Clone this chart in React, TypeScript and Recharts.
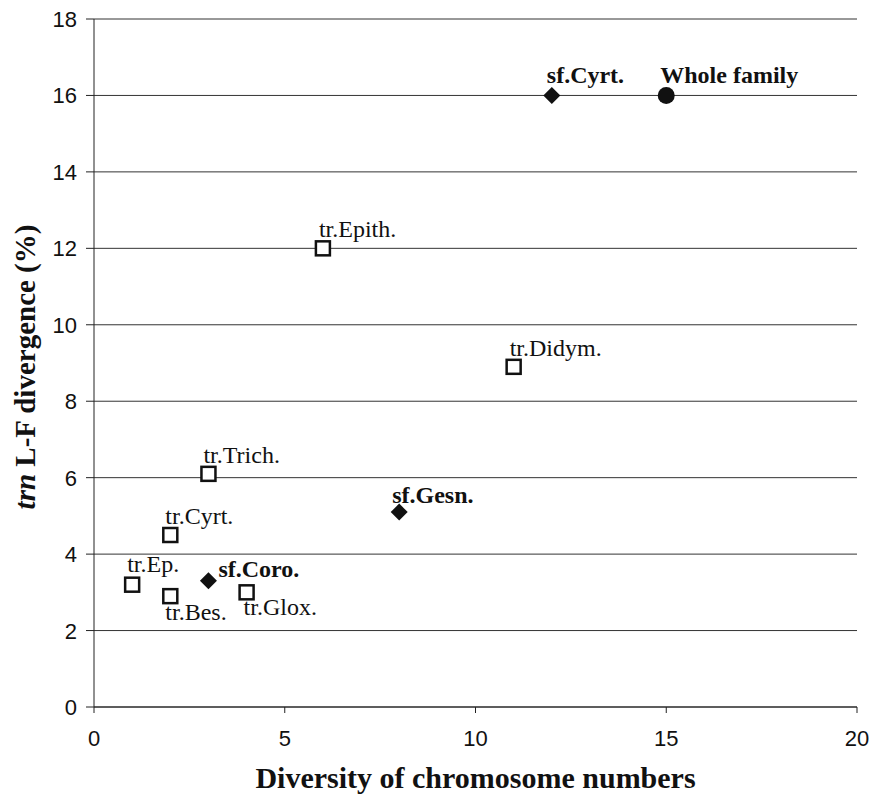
import React from 'react';
import { ScatterChart, Scatter, XAxis, YAxis, CartesianGrid, Label } from 'recharts';

// tribes (open squares)
const tribeNames = ['tr.Ep.', 'tr.Bes.', 'tr.Glox.', 'tr.Cyrt.', 'tr.Trich.', 'tr.Epith.', 'tr.Didym.'];
const tribeDiversity = [1, 2, 4, 2, 3, 6, 11];
const tribeDivergence = [3.2, 2.9, 3.0, 4.5, 6.1, 12.0, 8.9];

// subfamilies (filled diamonds)
const subfamilyNames = ['sf.Coro.', 'sf.Gesn.', 'sf.Cyrt.'];
const subfamilyDiversity = [3, 8, 12];
const subfamilyDivergence = [3.3, 5.1, 16.0];

// whole family (filled circle)
const familyNames = ['Whole family'];
const familyDiversity = [15];
const familyDivergence = [16.0];

const xTicks = [0, 5, 10, 15, 20];
const yTicks = [0, 2, 4, 6, 8, 10, 12, 14, 16, 18];

// where each label sits relative to its marker (text start, baseline)
const labelOffset: Record<string, [number, number]> = {
  'tr.Ep.': [-5, -13],
  'tr.Bes.': [-5, 24],
  'tr.Glox.': [-3, 23],
  'tr.Cyrt.': [-5, -11],
  'tr.Trich.': [-5, -11],
  'tr.Epith.': [-4, -11],
  'tr.Didym.': [-4, -11],
  'sf.Coro.': [10, -4],
  'sf.Gesn.': [-7, -9],
  'sf.Cyrt.': [-5, -12],
  'Whole family': [-6, -12],
};

const build = (names: string[], xs: number[], ys: number[]) =>
  names.map((name, i) => ({ name, x: xs[i], y: ys[i] }));

const tribes = build(tribeNames, tribeDiversity, tribeDivergence);
const subfamilies = build(subfamilyNames, subfamilyDiversity, subfamilyDivergence);
const family = build(familyNames, familyDiversity, familyDivergence);

const serif = '"Liberation Serif", "Times New Roman", serif';
const sans = '"Liberation Sans", Arial, sans-serif';

const PointLabel = ({ cx, cy, name, bold }: any) => {
  const [dx, dy] = labelOffset[name] || [0, -12];
  return (
    <text x={cx + dx} y={cy + dy} fontFamily={serif} fontSize={24} fontWeight={bold ? 'bold' : 'normal'} fill="#111">
      {name}
    </text>
  );
};

const SquareShape = (props: any) => {
  const { cx, cy, payload } = props;
  return (
    <g>
      <rect x={cx - 7} y={cy - 7} width={14} height={14} fill="#fff" stroke="#111" strokeWidth={2.5} />
      <PointLabel cx={cx} cy={cy} name={payload.name} />
    </g>
  );
};

const DiamondShape = (props: any) => {
  const { cx, cy, payload } = props;
  const r = 8.5;
  return (
    <g>
      <polygon points={`${cx},${cy - r} ${cx + r},${cy} ${cx},${cy + r} ${cx - r},${cy}`} fill="#111" />
      <PointLabel cx={cx} cy={cy} name={payload.name} bold />
    </g>
  );
};

const CircleShape = (props: any) => {
  const { cx, cy, payload } = props;
  return (
    <g>
      <circle cx={cx} cy={cy} r={8.5} fill="#111" />
      <PointLabel cx={cx} cy={cy} name={payload.name} bold />
    </g>
  );
};

const XTick = ({ x, y, payload }: any) => (
  <text x={x} y={y + 15} textAnchor="middle" fontFamily={sans} fontSize={22} fill="#111">
    {payload.value}
  </text>
);

const YTick = ({ x, y, payload }: any) => (
  <text x={77} y={y + 8} textAnchor="end" fontFamily={sans} fontSize={22} fill="#111">
    {payload.value}
  </text>
);

const YTitle = ({ viewBox }: any) => {
  const cx = 25;
  const cy = viewBox.y + viewBox.height / 2 + 4;
  return (
    <text
      x={cx}
      y={cy}
      transform={`rotate(-90, ${cx}, ${cy})`}
      textAnchor="middle"
      dominantBaseline="central"
      fontFamily={serif}
      fontSize={29}
      fontWeight="bold"
      fill="#111"
    >
      <tspan fontStyle="italic">trn</tspan> L-F divergence (%)
    </text>
  );
};

const XTitle = ({ viewBox }: any) => (
  <text
    x={viewBox.x + viewBox.width / 2}
    y={788}
    textAnchor="middle"
    fontFamily={serif}
    fontSize={30}
    fontWeight="bold"
    fill="#111"
  >
    Diversity of chromosome numbers
  </text>
);

export default function App() {
  return (
    <div style={{ position: 'absolute', left: 0, top: 0, background: '#fff' }}>
      <ScatterChart width={874} height={801} margin={{ top: 19, right: 17, left: 0, bottom: 0 }}>
        <CartesianGrid vertical={false} stroke="#333" strokeWidth={1} />
        <XAxis
          type="number"
          dataKey="x"
          domain={[0, 20]}
          ticks={xTicks}
          height={94}
          tick={<XTick />}
          tickSize={6}
          tickMargin={18}
          stroke="#222"
          tickLine={{ stroke: '#222' }}
          allowDataOverflow
        >
          <Label content={<XTitle />} />
        </XAxis>
        <YAxis
          type="number"
          dataKey="y"
          domain={[0, 18]}
          ticks={yTicks}
          width={94}
          tick={<YTick />}
          tickSize={8}
          tickMargin={11}
          stroke="#222"
          tickLine={{ stroke: '#222' }}
          allowDataOverflow
        >
          <Label content={<YTitle />} />
        </YAxis>
        <Scatter data={tribes} shape={<SquareShape />} isAnimationActive={false} />
        <Scatter data={subfamilies} shape={<DiamondShape />} isAnimationActive={false} />
        <Scatter data={family} shape={<CircleShape />} isAnimationActive={false} />
      </ScatterChart>
    </div>
  );
}
